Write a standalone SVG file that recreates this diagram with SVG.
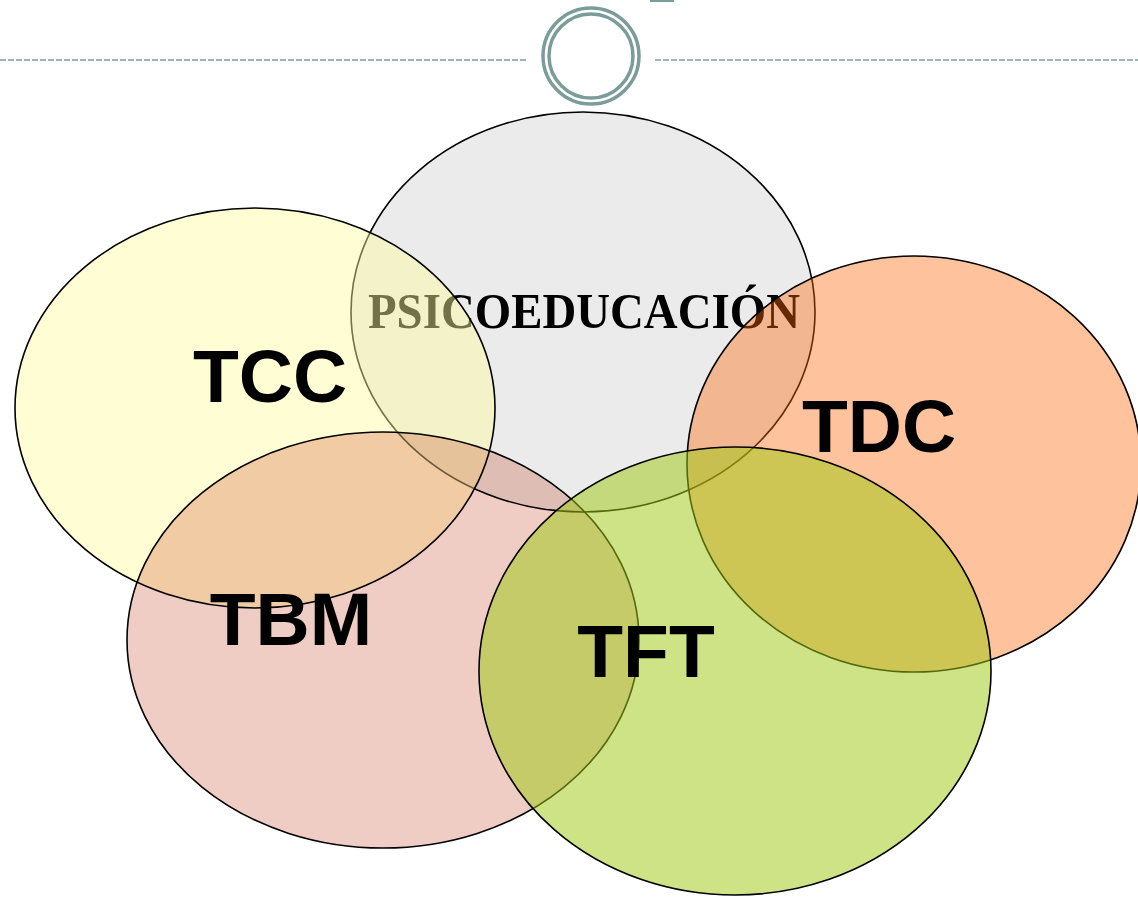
<svg xmlns="http://www.w3.org/2000/svg" width="1138" height="897" viewBox="0 0 1138 897">
  <defs>
    <style>
      .rule { stroke: #7B9D9A; stroke-width: 1.5; stroke-dasharray: 6 2; fill: none; }
      .ring { stroke: #7B9D9A; stroke-width: 3.5; fill: none; }
      .set { stroke: #000; stroke-width: 1.6; }
      .label { font-family: "Liberation Sans", Arial, sans-serif; font-weight: bold; font-size: 75px; fill: #000; text-anchor: middle; }
      .title { font-family: "Liberation Serif", "Times New Roman", serif; font-weight: bold; font-size: 50px; fill: #000; text-anchor: middle; }
    </style>
  </defs>

  <rect x="0" y="0" width="1138" height="897" fill="#FFFFFF"/>

  <!-- header ornament -->
  <g id="header">
    <rect x="650" y="0" width="24" height="2" fill="#7B9D9A"/>
    <line class="rule" x1="0" y1="60" x2="527" y2="60"/>
    <line class="rule" x1="655" y1="60" x2="1138" y2="60"/>
    <circle class="ring" cx="591" cy="56" r="48"/>
    <circle class="ring" cx="591" cy="56" r="42"/>
  </g>

  <g id="psicoeducacion">
    <ellipse class="set" cx="583" cy="312" rx="232" ry="200" fill="#EBEBEB"/>
    <text class="title" x="584" y="328" textLength="432" lengthAdjust="spacingAndGlyphs">PSICOEDUCACIÓN</text>
  </g>

  <g id="tcc">
    <ellipse class="set" cx="255" cy="408" rx="240" ry="200" fill="#FFFBA0" fill-opacity="0.45"/>
  </g>

  <g id="tdc">
    <ellipse class="set" cx="914" cy="464" rx="227" ry="208" fill="#FC6907" fill-opacity="0.4"/>
  </g>

  <g id="tbm">
    <ellipse class="set" cx="383" cy="640" rx="256" ry="208" fill="#F0CDC4" style="mix-blend-mode: multiply"/>
  </g>

  <g id="tft">
    <ellipse class="set" cx="735" cy="671" rx="256" ry="224" fill="#9FC916" fill-opacity="0.52"/>
  </g>

  <g id="labels">
    <text class="label" x="270" y="402">TCC</text>
    <text class="label" x="879" y="452">TDC</text>
    <text class="label" x="291" y="645">TBM</text>
    <text class="label" x="646" y="677">TFT</text>
  </g>
</svg>
